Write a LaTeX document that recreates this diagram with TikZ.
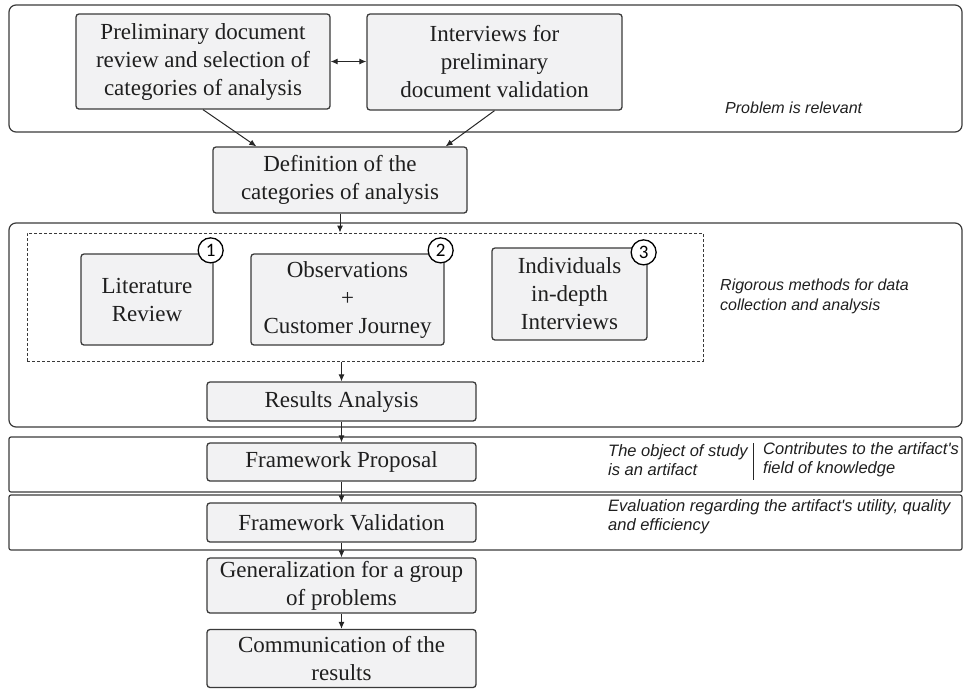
\documentclass[tikz,border=0pt]{standalone}
\usepackage{fontspec}
\setmainfont{Liberation Serif}
\newfontfamily\notefont{Liberation Sans}
\newfontfamily\numfont{Carlito}
\usepackage{xcolor}
\usetikzlibrary{arrows.meta,calc}
\definecolor{boxfill}{HTML}{F2F2F3}
\definecolor{boxline}{HTML}{3A3A3A}
\tikzset{
  stagebox/.style={draw=boxline,fill=boxfill,rectangle,rounded corners=3pt,line width=1.3pt,inner sep=0pt,align=center,text=black!88,font=\fontsize{23}{28}\selectfont},
  region/.style={draw=boxline,line width=1.2pt,rounded corners=7pt},
  note/.style={inner sep=0pt,anchor=west,align=left,text=black!88,font=\notefont\itshape\fontsize{16}{19.5}\selectfont},
  lownote/.style={note,font=\notefont\itshape\fontsize{16.5}{19}\selectfont},
  numcircle/.style={draw=black,fill=white,circle,line width=1.3pt,minimum size=25pt,inner sep=0pt,font=\numfont\fontsize{19}{19}\selectfont},
  flow/.style={-{Latex[length=7pt,width=6pt]},line width=1pt,draw=black!85},
}
\begin{document}
\begin{tikzpicture}[x=1pt,y=-1pt]
\useasboundingbox (0,0) rectangle (963,689);
\draw[region] (9,5) rectangle (962,132);
\draw[region] (9,223) rectangle (962,427);
\draw[region,rounded corners=2pt] (9,437) rectangle (962,492);
\draw[region,rounded corners=2pt] (9,495) rectangle (962,550);
\node[stagebox,minimum width=254pt,minimum height=95pt] (prelim) at (203,61.5) {Preliminary document\\review and selection of\\categories of analysis};
\node[stagebox,minimum width=255pt,minimum height=96pt] (interv) at (494.5,62) {Interviews for\\preliminary\\document validation};
\node[stagebox,minimum width=254pt,minimum height=66pt] (defin) at (340,180) {Definition of the\\categories of analysis};
\node[draw=boxline,dashed,dash pattern=on 3pt off 2pt,line width=1pt,minimum width=676pt,minimum height=128pt] (methods) at (365,297) {};
\node[stagebox,minimum width=132pt,minimum height=91pt] (lit) at (147,299.5) {Literature\\Review};
\node[stagebox,minimum width=193pt,minimum height=91pt] (obs) at (347.5,299.5) {Observations\\+\\Customer Journey};
\node[stagebox,minimum width=155pt,minimum height=92pt] (indiv) at (569.5,294) {Individuals\\in-depth\\Interviews};
\node[numcircle] (n1) at ([shift={(-3,-3)}]lit.north east) {1};
\node[numcircle] (n2) at ([shift={(-4,-3)}]obs.north east) {2};
\node[numcircle] (n3) at ([shift={(-4,5)}]indiv.north east) {3};
\node[stagebox,minimum width=269pt,minimum height=39pt] (results) at (341.5,401.5) {Results Analysis};
\node[stagebox,minimum width=269pt,minimum height=38pt] (proposal) at (341.5,462) {Framework Proposal};
\node[stagebox,minimum width=269pt,minimum height=39pt] (valid) at (341.5,522.5) {Framework Validation};
\node[stagebox,minimum width=269pt,minimum height=55pt] (general) at (341.5,585.5) {Generalization for a group\\of problems};
\node[stagebox,minimum width=269pt,minimum height=58pt] (commun) at (341.5,658.5) {Communication of the\\results};
\node[note] (relevant) at (725,108) {Problem is relevant};
\node[note,font=\notefont\itshape\fontsize{16}{20}\selectfont] (rigor) at (720,296) {Rigorous methods for data\\collection and analysis};
\node[lownote] (object) at (608,460.5) {The object of study\\is an artifact};
\node[lownote] (contrib) at (763,460) {Contributes to the artifact's\\field of knowledge};
\node[lownote] (evalu) at (608,516.5) {Evaluation regarding the artifact's utility, quality\\and efficiency};
\draw[line width=1pt,draw=black!85] (753,443) -- (753,480);
\draw[flow,{Latex[length=7pt,width=6pt]}-{Latex[length=7pt,width=6pt]}] (prelim.east) -- (interv.west |- prelim.east);
\draw[flow] (prelim.south) -- ([xshift=44pt]defin.north west);
\draw[flow] (interv.south) -- ([xshift=-22pt]defin.north east);
\draw[flow] (defin.south) -- (defin.south |- methods.north);
\draw[flow] (results.north |- methods.south) -- (results.north);
\draw[flow] (results) -- (proposal);
\draw[flow] (proposal) -- (valid);
\draw[flow] (valid) -- (general);
\draw[flow] (general) -- (commun);
\end{tikzpicture}
\end{document}
